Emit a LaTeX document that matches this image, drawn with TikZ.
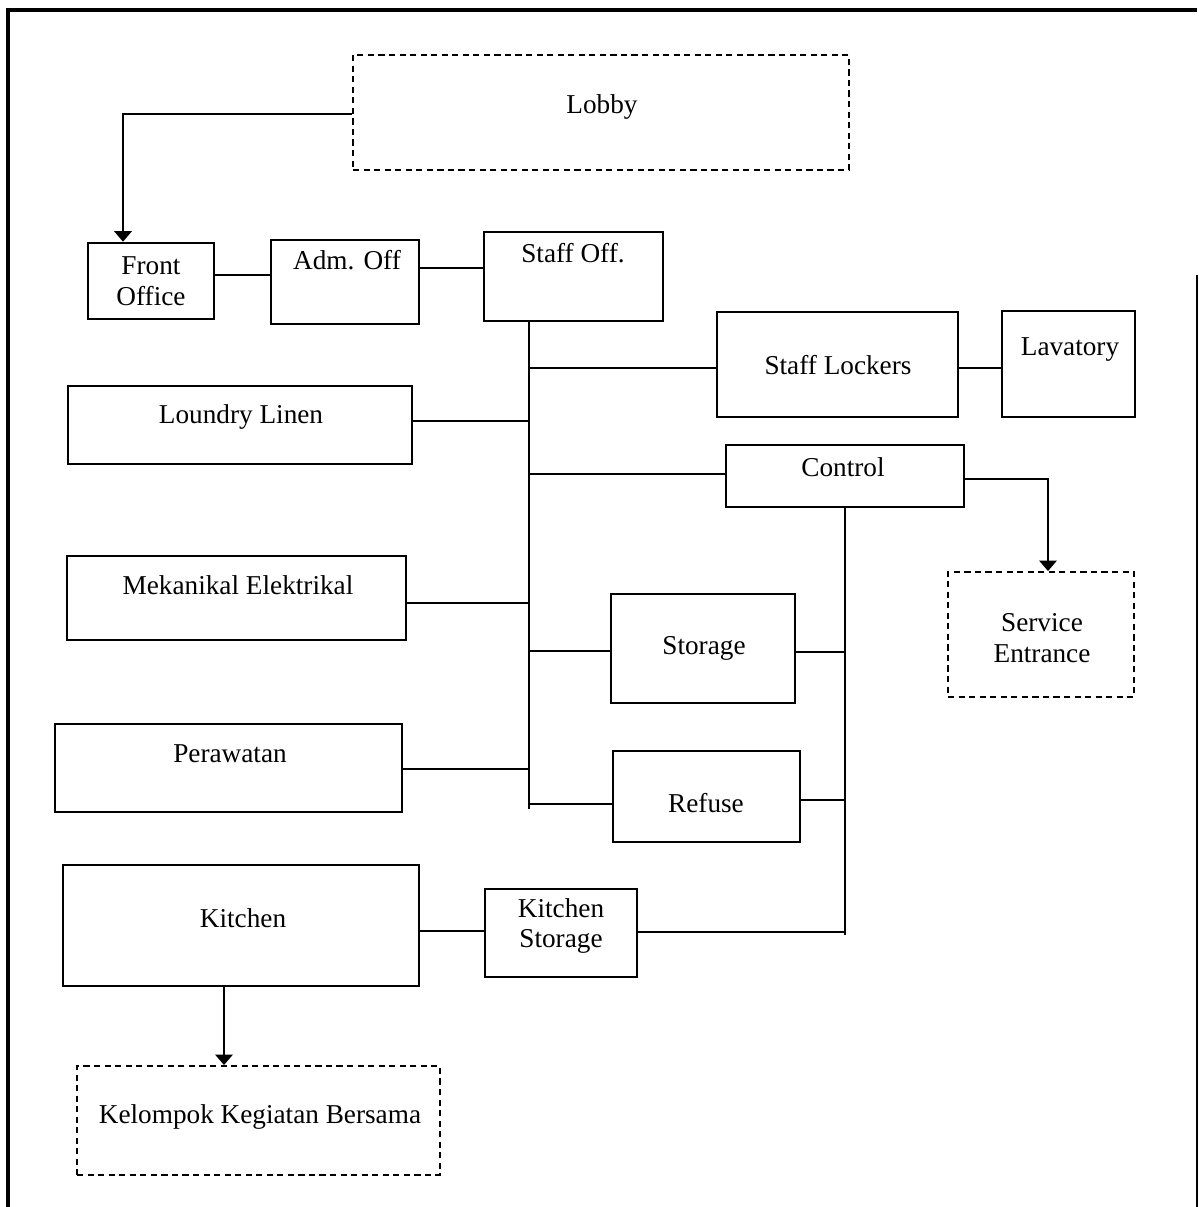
\documentclass[tikz,border=0pt]{standalone}
\usepackage{fontspec}
\setmainfont{Liberation Serif}
\usetikzlibrary{arrows.meta}

\begin{document}
\begin{tikzpicture}[x=0.02cm, y=-0.02cm,
    room/.style={draw, line width=1.5pt, inner sep=0pt},
    open/.style={draw, line width=1.1pt, dash pattern=on 3.5pt off 2.5pt, inner sep=0pt},
    txt/.style={font=\fontsize{15.5}{17.5}\selectfont, align=center, inner sep=0pt},
    link/.style={line width=1.1pt},
    arr/.style={line width=1.1pt, -{Triangle[width=10pt, length=6pt]}}]
\useasboundingbox (0,0) rectangle (1199,1207);

% Frame
\draw[line width=2.4pt] (8,1207) -- (8,10) -- (1197,10);
\draw[line width=1.6pt] (1197,275) -- (1197,1207);

% Rooms
\node[open, minimum width=9.92cm, minimum height=2.30cm] (lobby) at (601,112.5) {};
\node[room, minimum width=2.52cm, minimum height=1.52cm] (front) at (151,281) {};
\node[room, minimum width=2.96cm, minimum height=1.68cm] (adm) at (345,282) {};
\node[room, minimum width=3.58cm, minimum height=1.78cm] (staff) at (573.5,276.5) {};
\node[room, minimum width=4.82cm, minimum height=2.10cm] (lockers) at (837.5,364.5) {};
\node[room, minimum width=2.66cm, minimum height=2.12cm] (lav) at (1068.5,364) {};
\node[room, minimum width=6.88cm, minimum height=1.56cm] (loundry) at (240,425) {};
\node[room, minimum width=4.76cm, minimum height=1.24cm] (control) at (845,476) {};
\node[open, minimum width=3.72cm, minimum height=2.50cm] (service) at (1041,634.5) {};
\node[room, minimum width=6.78cm, minimum height=1.68cm] (mek) at (236.5,598) {};
\node[room, minimum width=3.68cm, minimum height=2.18cm] (storage) at (703,648.5) {};
\node[room, minimum width=6.94cm, minimum height=1.76cm] (perawatan) at (228.5,768) {};
\node[room, minimum width=3.74cm, minimum height=1.82cm] (refuse) at (706.5,796.5) {};
\node[room, minimum width=7.12cm, minimum height=2.42cm] (kitchen) at (241,925.5) {};
\node[room, minimum width=3.04cm, minimum height=1.76cm] (kstore) at (561,933) {};
\node[open, minimum width=7.26cm, minimum height=2.18cm] (kelompok) at (258.5,1120.5) {};

% Labels
\node[txt] (lobby-t) at (602,107) {Lobby};
\node[txt] (front-t) at (151,281) {Front\\Office};
\node[txt] (adm-t) at (347,260) {Adm. Off};
\node[txt] (staff-t) at (573,253) {Staff Off.};
\node[txt] (lockers-t) at (838,365) {Staff Lockers};
\node[txt] (lav-t) at (1070,350) {Lavatory};
\node[txt] (loundry-t) at (241,417) {Loundry Linen};
\node[txt] (control-t) at (843,467) {Control};
\node[txt] (service-t) at (1042,638) {Service\\Entrance};
\node[txt] (mek-t) at (238,585) {Mekanikal Elektrikal};
\node[txt] (storage-t) at (704,648) {Storage};
\node[txt] (perawatan-t) at (230,754) {Perawatan};
\node[txt] (refuse-t) at (706,803) {Refuse};
\node[txt] (kitchen-t) at (243,918) {Kitchen};
\node[txt] (kstore-t) at (561,926) {Kitchen\\Storage};
\node[txt] (kelompok-t) at (260,1117) {Kelompok Kegiatan Bersama};

% Service corridors
\coordinate (bus) at (529,809);
\coordinate (ctl) at (845,935);

\draw[arr] (lobby.west |- 0,114) -| (123,0 |- front.north);
\draw[link] (front.east |- 0,275) -- (adm.west |- 0,275);
\draw[link] (adm.east |- 0,268) -- (staff.west |- 0,268);
\draw[link] (bus |- staff.south) -- (bus);
\draw[link] (bus |- 0,368) -- (lockers.west |- 0,368);
\draw[link] (lockers.east |- 0,368) -- (lav.west |- 0,368);
\draw[link] (loundry.east |- 0,421) -- (bus |- 0,421);
\draw[link] (bus |- 0,474) -- (control.west |- 0,474);
\draw[arr] (control.east |- 0,479) -| (1048,0 |- service.north);
\draw[link] (control.south) -- (ctl);
\draw[link] (mek.east |- 0,603) -- (bus |- 0,603);
\draw[link] (bus |- 0,651) -- (storage.west |- 0,651);
\draw[link] (storage.east |- 0,652) -- (ctl |- 0,652);
\draw[link] (perawatan.east |- 0,769) -- (bus |- 0,769);
\draw[link] (bus |- 0,804) -- (refuse.west |- 0,804);
\draw[link] (refuse.east |- 0,800) -- (ctl |- 0,800);
\draw[link] (kitchen.east |- 0,931) -- (kstore.west |- 0,931);
\draw[link] (kstore.east |- 0,932) -- (ctl |- 0,932);
\draw[arr] (224,0 |- kitchen.south) -- (224,0 |- kelompok.north);
\end{tikzpicture}
\end{document}
